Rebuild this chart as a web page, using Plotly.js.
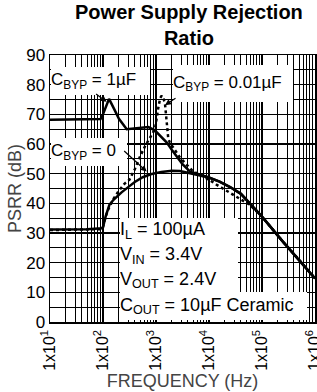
<!DOCTYPE html>
<html>
<head>
<meta charset="utf-8">
<script src="https://cdn.plot.ly/plotly-3.0.1.min.js"></script>
<style>
  html, body { margin: 0; padding: 0; background: #fff; }
  #chart { width: 317px; height: 392px; }
</style>
</head>
<body>
<div id="chart"></div>
<script>
// ---- data (frequency in Hz, PSRR in dB) ----
const freq1uF = [10, 50, 90, 100, 115, 130, 160, 200, 280, 400, 550, 720, 950, 1260, 1600, 2000, 2500, 3160, 4400, 6300, 9000, 15800, 25000, 40000, 100000, 250000, 500000, 1000000];
const psrr1uF = [68.2, 68.2, 68.4, 70, 73, 75.2, 72, 68.5, 65.0, 65.2, 65.5, 65.7, 64.6, 62.5, 60.5, 58, 55.5, 53.2, 50.7, 49.8, 49, 47.3, 45.5, 43.2, 35.5, 27, 21, 14.7];

const freq0 = [10, 50, 95, 100, 112, 132, 158, 224, 316, 398, 562, 794, 1260, 2000, 2820, 3980, 6300, 10000, 15800, 25000, 40000, 100000, 250000, 500000, 1000000];
const psrr0 = [31.2, 31.3, 31.6, 32, 35.5, 39.5, 41.2, 43.7, 45.8, 47.2, 48.8, 49.8, 50.6, 51, 50.9, 50.3, 49.6, 48.7, 47.3, 45.5, 43.2, 35.5, 27, 21, 14.7];

const freq001uF = [10, 50, 95, 100, 112, 126, 158, 195, 251, 316, 398, 501, 631, 794, 955, 1100, 1200, 1280, 1400, 1480, 1585, 1700, 1820, 2240, 2820, 3800, 5000, 6760, 10000, 14100, 22400, 38500, 58900, 100000, 250000, 500000, 1000000];
const psrr001uF = [31, 31.1, 31.3, 32, 35.5, 38, 41.5, 44, 46.5, 48, 51.5, 55.8, 59.5, 62.5, 65, 72, 75.5, 76.3, 75, 73.5, 67, 62, 60.5, 58, 55.5, 53, 50.8, 49.6, 48.0, 46.2, 44, 41.7, 39.5, 35.5, 27, 21, 14.7];

// ---- axis ticks ----
const xTickVals = [10, 100, 1000, 10000, 100000, 1000000];
const xTickText = ['1x10<sup>1</sup>', '1x10<sup>2</sup>', '1x10<sup>3</sup>', '1x10<sup>4</sup>', '1x10<sup>5</sup>', '1x10<sup>6</sup>'];
const xMinorVals = [];
for (let d = 10; d < 1000000; d *= 10) {
  for (let k = 2; k <= 9; k++) xMinorVals.push(k * d);
}
const yTickVals = [0, 10, 20, 30, 40, 50, 60, 70, 80, 90];
const yTickText = ['0', '10', '20', '30', '40', '50', '60', '70', '80', '90'];
const yMinorVals = [5, 15, 25, 35, 45, 55, 65, 75, 85];

const FONT = 'Liberation Sans, Arial, Helvetica, sans-serif';
const lineStyle = {color: '#000', width: 2.5};

const traces = [
  {x: freq001uF, y: psrr001uF, mode: 'lines', line: {color: '#000', width: 2.5, dash: '3px,3px'}, name: 'CBYP = 0.01µF'},
  {x: freq0, y: psrr0, mode: 'lines', line: lineStyle, name: 'CBYP = 0'},
  {x: freq1uF, y: psrr1uF, mode: 'lines', line: lineStyle, name: 'CBYP = 1µF'}
];

const L = 50, T = 55, W = 265, H = 267;
function px(x) { return (x - L) / W; }
function py(y) { return (T + H - y) / H; }

function box(text, x0, y0, x1, y1, size) {
  return {
    xref: 'paper', yref: 'paper', x: px(x0), y: py(y0),
    xanchor: 'left', yanchor: 'top',
    width: x1 - x0, height: y1 - y0,
    text: text, showarrow: false, align: 'left', valign: 'middle',
    bgcolor: '#fff', borderwidth: 0, borderpad: 0,
    font: {family: FONT, size: size, color: '#000'}
  };
}
function arrow(xHz, yDb, ax, ay) {
  return {
    xref: 'x', yref: 'y', x: Math.log10(xHz), y: yDb, ax: ax, ay: ay,
    axref: 'pixel', ayref: 'pixel',
    text: '', showarrow: true, arrowhead: 2, arrowsize: 1, arrowwidth: 1.2,
    arrowcolor: '#000', standoff: 0, startstandoff: 0
  };
}

const annotations = [
  box('C<sub>BYP</sub> = 1µF', 51, 67, 150, 95, 17),
  box('C<sub>BYP</sub> = 0.01µF', 173, 65, 293, 102, 17),
  box('C<sub>BYP</sub> = 0', 51, 138, 127, 166, 17),
  box('I<sub>L</sub> = 100µA', 120, 218, 238, 243, 18),
  box('V<sub>IN</sub> = 3.4V', 120, 243, 238, 268, 18),
  box('V<sub>OUT</sub> = 2.4V', 120, 268, 238, 292, 18),
  box('C<sub>OUT</sub> = 10µF Ceramic', 120, 292, 307, 320, 18),
  arrow(117, 74.2, -12, -9),
  arrow(1480, 73.1, 12, -8),
  arrow(667, 50.7, -24, -22)
];

const layout = {
  width: 317, height: 392,
  margin: {l: L, r: 317 - L - W, t: T, b: 392 - T - H, pad: 0},
  paper_bgcolor: '#fff', plot_bgcolor: '#fff',
  showlegend: false,
  font: {family: FONT, color: '#000'},
  title: {
    text: '<b>Power Supply Rejection<br>Ratio</b>',
    font: {family: FONT, size: 20, color: '#000'},
    xref: 'container', x: 0.596, xanchor: 'center',
    yref: 'container', y: 1 - 19 / 392, yanchor: 'top'
  },
  xaxis: {
    type: 'log', range: [1, 6], fixedrange: true,
    tickmode: 'array', tickvals: xTickVals, ticktext: xTickText,
    tickangle: -90, tickfont: {family: FONT, size: 16, color: '#000'},
    ticklabeloverflow: 'allow',
    ticks: '', showgrid: true, gridcolor: '#000', gridwidth: 1.3,
    minor: {tickmode: 'array', tickvals: xMinorVals, showgrid: true, gridcolor: '#000', gridwidth: 1, ticks: ''},
    showline: true, linecolor: '#000', linewidth: 1.5, mirror: true, zeroline: false,
    title: {text: 'FREQUENCY (Hz)', font: {family: FONT, size: 18, color: '#444'}, standoff: 0}
  },
  yaxis: {
    range: [0, 90], fixedrange: true,
    tickmode: 'array', tickvals: yTickVals, ticktext: yTickText,
    tickfont: {family: FONT, size: 17, color: '#000'},
    ticks: '', showgrid: true, gridcolor: '#000', gridwidth: 1.2,
    minor: {tickmode: 'array', tickvals: yMinorVals, showgrid: true, gridcolor: '#000', gridwidth: 1, ticks: ''},
    showline: true, linecolor: '#000', linewidth: 1.5, mirror: true, zeroline: false,
    title: {text: 'PSRR (dB)', font: {family: FONT, size: 18, color: '#444'}, standoff: 0}
  },
  annotations: annotations
};

Plotly.newPlot('chart', traces, layout, {staticPlot: true, displayModeBar: false});
</script>
</body>
</html>
